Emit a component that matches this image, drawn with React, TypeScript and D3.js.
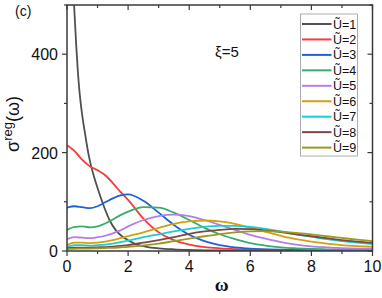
import React from 'react';
import * as d3 from 'd3';

// omega grid for U=2..9
const omega = [0, 0.25, 0.5, 0.75, 1, 1.25, 1.5, 1.75, 2, 2.5, 3, 3.5, 4, 4.5, 5, 5.5, 6, 6.5, 7, 7.5, 8, 8.5, 9, 9.5, 10];
// U=1 needs a finer grid near zero (it goes off the top)
const omega1 = [0.18, 0.22, 0.25, 0.3, 0.35, 0.4, 0.5, 0.6, 0.7, 0.8, 0.9, 1, 1.2, 1.4, 1.6, 1.8, 2, 2.3, 2.6, 3, 3.5, 4, 5, 6, 8, 10];

const sigU1 = [620, 520, 478, 420, 370, 330, 275, 235, 198, 170, 148, 128, 92, 62, 42, 30, 22, 13, 8.5, 5.5, 3.5, 2.3, 1.2, 0.8, 0.4, 0.2];
const sigU2 = [215, 203, 185, 172, 164, 154, 138, 120, 104, 66, 38, 22, 13, 8, 5.5, 4, 3, 2.5, 2, 1.6, 1.3, 1.1, 1, 0.9, 0.8];
const sigU3 = [88, 91, 89, 87, 91, 99, 107, 113, 115, 102, 78, 53, 33, 20, 12, 7.5, 5, 3.5, 2.5, 2, 1.5, 1.2, 1, 0.8, 0.7];
const sigU4 = [43, 49, 50, 48, 50, 56, 64, 73, 80, 89, 88, 78, 63, 47, 34, 24, 16, 11, 7.5, 5.5, 4.2, 3.4, 2.9, 2.6, 2.4];
const sigU5 = [24, 28, 27, 26, 28, 31, 36, 42, 50, 63, 71, 74, 71, 63, 53, 43, 33, 25, 18, 13, 9.5, 7.5, 6, 5, 4.5];
const sigU6 = [12, 17, 17, 16, 17, 19, 22, 26, 30, 38, 47, 55, 60, 62, 60, 55, 47, 39, 31, 24, 19, 15, 12, 10, 8.5];
const sigU7 = [8, 12, 12, 11, 12, 13, 15, 18, 21, 28, 34, 40, 45, 49, 51, 51, 49, 45, 40, 34, 29, 24, 20, 17, 14];
const sigU8 = [6, 7, 7, 7, 7.5, 8, 9, 10.5, 12, 17, 22, 28, 35, 40, 43, 45, 44.5, 42, 38.5, 34, 30, 26, 22, 19, 16.5];
const sigU9 = [4, 4.5, 5, 5, 5.5, 6, 6.5, 7.5, 8.5, 11.5, 15, 20, 25, 30, 34.5, 38, 40, 40.5, 39.5, 37, 34, 30, 26.5, 23, 20];

const labels = ['Ũ=1', 'Ũ=2', 'Ũ=3', 'Ũ=4', 'Ũ=5', 'Ũ=6', 'Ũ=7', 'Ũ=8', 'Ũ=9'];
const colors = ['#505050', '#f53b3b', '#1f62d6', '#36ad6b', '#b27fe6', '#d3a00c', '#14d0d0', '#7f4747', '#9b9a1e'];

const xTicks = [0, 2, 4, 6, 8, 10];
const xMinor = [1, 3, 5, 7, 9];
const yTicks = [0, 200, 400];
const yMinor = [100, 300, 500];

const W = 382, H = 298;
const L = 67, R = 372.5, T = 5, B = 251;
const font = '"Liberation Sans", Arial, sans-serif';

export default function App() {
  const x = d3.scaleLinear().domain([0, 10]).range([L, R]);
  const y = d3.scaleLinear().domain([0, 500]).range([B, T]);

  const series = [sigU1, sigU2, sigU3, sigU4, sigU5, sigU6, sigU7, sigU8, sigU9].map((vals, i) => {
    const xs = i === 0 ? omega1 : omega;
    return xs.map((w, j) => [w, vals[j]] as [number, number]);
  });

  const line = d3.line<[number, number]>()
    .x(d => x(d[0]))
    .y(d => y(d[1]))
    .curve(d3.curveMonotoneX);

  const axisColor = '#3a3a3a';
  const legX = 300.5, legY = 14, legW = 57, rowH = 15.45;

  return (
    <svg width={W} height={H} style={{ position: 'absolute', left: 0, top: 0, background: '#fff' }}
      fontFamily={font}>
      <defs>
        <clipPath id="plot">
          <rect x={L} y={T} width={R - L} height={B - T} />
        </clipPath>
      </defs>

      <g clipPath="url(#plot)" fill="none" strokeWidth={1.8}>
        {series.map((s, i) => (
          <path key={i} d={line(s) || ''} stroke={colors[i]} />
        ))}
      </g>

      {/* frame */}
      <rect x={L} y={T} width={R - L} height={B - T} fill="none" stroke={axisColor} strokeWidth={1.5} />

      {/* bottom + top ticks */}
      {xTicks.map(t => (
        <g key={'xt' + t}>
          <line x1={x(t)} x2={x(t)} y1={B} y2={B + 5} stroke={axisColor} strokeWidth={1.2} />
          <line x1={x(t)} x2={x(t)} y1={T} y2={T + 5} stroke={axisColor} strokeWidth={1.2} />
          <text x={x(t)} y={272} textAnchor="middle" fontSize={16} fill="#111">{t}</text>
        </g>
      ))}
      {xMinor.map(t => (
        <g key={'xm' + t}>
          <line x1={x(t)} x2={x(t)} y1={B} y2={B + 3} stroke={axisColor} strokeWidth={1.2} />
          <line x1={x(t)} x2={x(t)} y1={T} y2={T + 3} stroke={axisColor} strokeWidth={1.2} />
        </g>
      ))}

      {/* left + right ticks */}
      {yTicks.map(t => (
        <g key={'yt' + t}>
          <line x1={L - 5} x2={L} y1={y(t)} y2={y(t)} stroke={axisColor} strokeWidth={1.2} />
          <line x1={R - 5} x2={R} y1={y(t)} y2={y(t)} stroke={axisColor} strokeWidth={1.2} />
          <text x={58} y={y(t) + 6} textAnchor="end" fontSize={16} fill="#111">{t}</text>
        </g>
      ))}
      {yMinor.map(t => (
        <g key={'ym' + t}>
          <line x1={L - 3} x2={L} y1={y(t)} y2={y(t)} stroke={axisColor} strokeWidth={1.2} />
          <line x1={R - 3} x2={R} y1={y(t)} y2={y(t)} stroke={axisColor} strokeWidth={1.2} />
        </g>
      ))}

      {/* axis titles */}
      <text x={(L + R) / 2 + 2} y={291} textAnchor="middle" fontSize={19} fontWeight="bold"
        fontFamily='"Liberation Serif", "Times New Roman", serif' fill="#111">ω</text>
      <text transform={`translate(19,124) rotate(-90)`} textAnchor="middle" fontSize={18} fill="#111">
        σ<tspan fontSize={13} dy={-7}>reg</tspan><tspan dy={7}>(ω)</tspan>
      </text>

      <text x={15} y={16} fontSize={14} fill="#111">(c)</text>
      <text x={215} y={57} fontSize={15} fill="#111">ξ=5</text>

      {/* legend */}
      <rect x={legX} y={legY} width={legW} height={rowH * 9 + 3} fill="#fff" stroke="#9a9a9a" strokeWidth={0.8} />
      {labels.map((lab, i) => {
        const cy = legY + 10 + i * rowH;
        return (
          <g key={lab}>
            <line x1={legX + 1.5} x2={legX + 31} y1={cy} y2={cy} stroke={colors[i]} strokeWidth={2} />
            <text x={legX + 32.5} y={cy + 4.5} fontSize={12.5} fill="#111">{lab}</text>
          </g>
        );
      })}
    </svg>
  );
}
